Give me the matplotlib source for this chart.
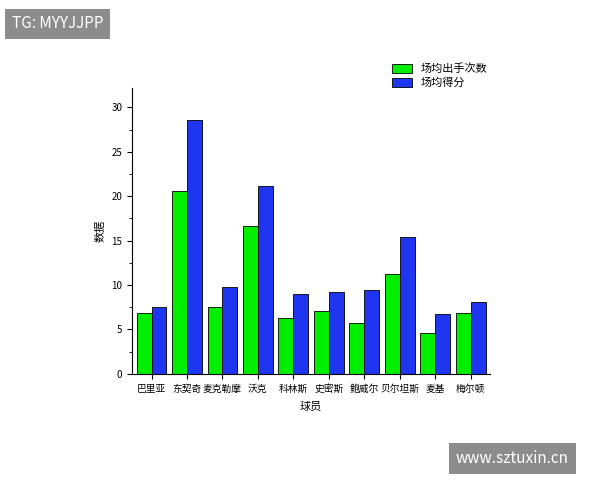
import matplotlib.pyplot as plt
import numpy as np

plt.rcParams['font.family'] = ['Noto Sans CJK SC', 'DejaVu Sans']

players = ['巴里亚', '东契奇', '麦克勒摩', '沃克', '科林斯', '史密斯', '鲍威尔', '贝尔坦斯', '麦基', '梅尔顿']
shots = [6.9, 20.6, 7.5, 16.6, 6.3, 7.1, 5.7, 11.3, 4.6, 6.9]
points = [7.5, 28.6, 9.8, 21.2, 9.0, 9.2, 9.5, 15.4, 6.8, 8.1]

fig = plt.figure(figsize=(6, 4.8), dpi=100)
ax = fig.add_axes([0.22, 0.221, 0.597, 0.596])

x = np.arange(len(players))
w = 0.42
ax.bar(x - w / 2, shots, w, color='#00ee00', edgecolor='black', linewidth=0.6, label='场均出手次数')
ax.bar(x + w / 2, points, w, color='#1f35f0', edgecolor='black', linewidth=0.6, label='场均得分')

ax.set_xlim(-0.55, 9.55)
ax.set_ylim(0, 32.2)
ax.set_yticks(range(0, 31, 5))
ax.set_yticks(np.arange(0, 32, 2.5), minor=True)
ax.set_xticks(x)
ax.set_xticklabels(players, fontsize=7)
ax.tick_params(axis='y', labelsize=7)
ax.spines['top'].set_visible(False)
ax.spines['right'].set_visible(False)
ax.set_xlabel('球员', fontsize=8, labelpad=6)
ax.set_ylabel('数据', fontsize=8)
ax.legend(loc='upper right', bbox_to_anchor=(1.02, 1.12), frameon=False, fontsize=8,
          handlelength=1.8, handleheight=0.9, labelspacing=0.3)

fig.text(0.02, 0.95, 'TG: MYYJJPP', color='white', fontsize=11, va='center',
         bbox=dict(facecolor='#8c8c8c', edgecolor='none', pad=5))
fig.text(0.76, 0.045, 'www.sztuxin.cn', color='white', fontsize=11, va='center',
         bbox=dict(facecolor='#8c8c8c', edgecolor='none', pad=5))

fig.savefig('out.png', dpi=100)
